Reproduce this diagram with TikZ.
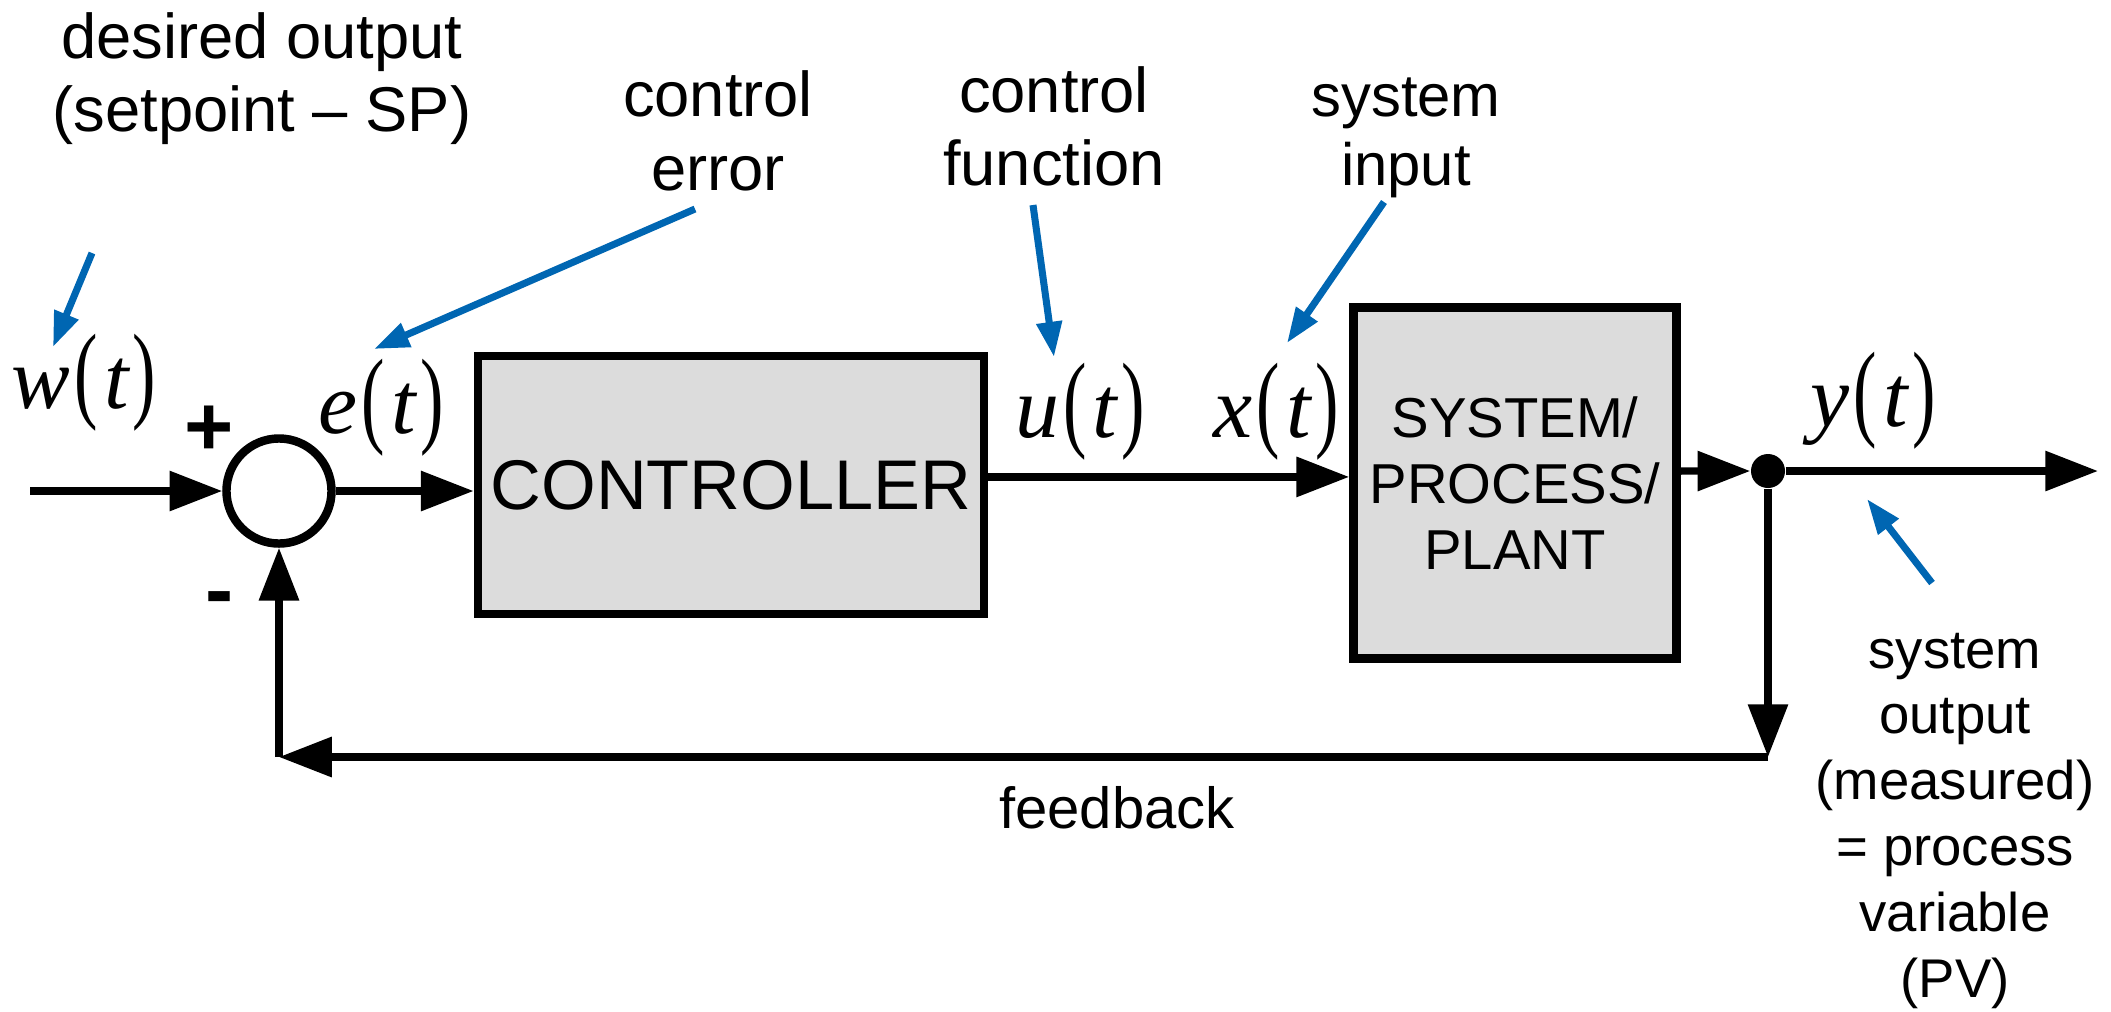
\documentclass[tikz,border=0pt]{standalone}
\usepackage{fontspec}
\setmainfont{Liberation Sans}
\newfontfamily\mathser{Liberation Serif}
\usetikzlibrary{arrows.meta}
\definecolor{ablue}{RGB}{0,102,178}
\definecolor{boxgray}{RGB}{220,220,220}
\newcommand{\sgl}[1]{{\mathser\fontsize{25}{25}\selectfont\itshape #1\upshape\kern1.2pt\scalebox{0.8}[1.22]{(}\kern1.8pt\itshape t\upshape\kern1.2pt\scalebox{0.8}[1.22]{)}}}
\begin{document}
\begin{tikzpicture}[x=0.01cm,y=-0.01cm,
  tip/.style={-{Triangle[length=15pt,width=11pt]}},
  sigline/.style={line width=2.1pt, tip},
  blk/.style={draw, line width=2.4pt, fill=boxgray, inner sep=0pt},
  note/.style={draw=ablue, line width=2pt, -{Triangle[length=10pt,width=7pt]}},
  lbl/.style={inner sep=0pt, anchor=base, align=center},
  ]
\useasboundingbox (0,0) rectangle (2111,1011);

% blocks
\node[blk, minimum width=5.06cm, minimum height=2.58cm, font=\fontsize{20}{24}\selectfont] (ctrl) at (731,485) {CONTROLLER};
\node[blk, minimum width=3.23cm, minimum height=3.51cm, align=center, font=\fontsize{16}{18.8}\selectfont] (sys) at (1515,483) {SYSTEM/\\PROCESS/\\PLANT};
\node[draw, circle, line width=2.4pt, minimum size=1.05cm, inner sep=0pt] (sum) at (279,491) {};
\node[circle, fill, minimum size=0.34cm, inner sep=0pt] (dot) at (1768,471) {};

% free ends
\coordinate (in) at (30,491);
\coordinate (out) at (2098,471);
\coordinate (fbr) at (1768,757);
\coordinate (fbl) at (279,757);

% signal lines
\draw[sigline] (in) -- (sum.west);
\draw[sigline] (sum.east) -- (sum.east -| ctrl.west);
\draw[sigline] ([yshift=2.3pt]ctrl.east) -- ([yshift=2.3pt]ctrl.east -| sys.west);
\draw[sigline] ([yshift=3.4pt]sys.east) -- (dot.west);
\draw[sigline] (dot) -- (out);
\draw[sigline] (dot) -- (fbr);
\draw[sigline] (fbr) -- (fbl);
\draw[sigline] (fbl) -- (sum.south);

% signs
\node[lbl, font=\fontsize{24}{24}\selectfont\bfseries] (plus) at (209,455) {+};
\node[lbl, font=\fontsize{24}{24}\selectfont\bfseries] (minus) at (220,618) {-};

% signal names
\node[lbl] (w) at (84,408) {\sgl{w}};
\node[lbl] (e) at (381,433) {\sgl{e}};
\node[lbl] (u) at (1080,437) {\sgl{u}};
\node[lbl] (x) at (1276,437) {\sgl{x}};
\node[lbl] (y) at (1873,426) {\sgl{y}};

% text labels (base = baseline of the last line)
\node[lbl, font=\fontsize{18}{20.5}\selectfont] (sp) at (262,131) {desired output\\(setpoint -- SP)};
\node[lbl, font=\fontsize{18}{21}\selectfont] (cerr) at (718,190) {control\\error};
\node[lbl, font=\fontsize{18}{20.5}\selectfont] (cfun) at (1054,185) {control\\function};
\node[lbl, font=\fontsize{17}{19.5}\selectfont] (sin) at (1406,185) {system\\input};
\node[lbl, font=\fontsize{16.5}{20}\selectfont] (fb) at (1117,828) {feedback};
\node[lbl, font=\fontsize{15.5}{18.7}\selectfont] (sout) at (1955,997) {system\\output\\(measured)\\= process\\variable\\(PV)};

% annotation arrows
\coordinate (n1a) at (92,253);  \coordinate (n1b) at (53,347);
\coordinate (n2a) at (695,209); \coordinate (n2b) at (374,349);
\coordinate (n3a) at (1033,205); \coordinate (n3b) at (1054,357);
\coordinate (n4a) at (1384,202); \coordinate (n4b) at (1287,343);
\coordinate (n5a) at (1932,583); \coordinate (n5b) at (1867,499);
\draw[note] (n1a) -- (n1b);
\draw[note] (n2a) -- (n2b);
\draw[note] (n3a) -- (n3b);
\draw[note] (n4a) -- (n4b);
\draw[note] (n5a) -- (n5b);
\end{tikzpicture}
\end{document}
